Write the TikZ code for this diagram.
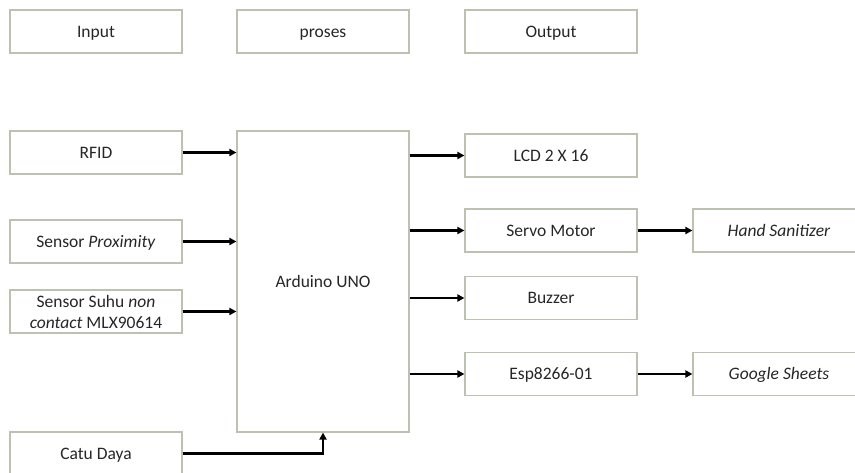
\documentclass[tikz,border=0pt]{standalone}
\usepackage{fontspec}
\setmainfont{Carlito}
\usepackage{tikz}
\usetikzlibrary{positioning, arrows.meta, calc}
\definecolor{boxColor}{HTML}{BCC2B2}

\begin{document}
\begin{tikzpicture}[x=1pt, y=-1pt, font=\fontsize{17.5}{19}\selectfont,
    kotak/.style={draw=boxColor, line width=1.1pt, text=black!85, minimum width=172pt, minimum height=43pt, inner sep=2pt, align=center},
    blok/.style={kotak, text height=14pt, text depth=2pt},
    panah/.style={-{Triangle[length=7pt, width=7pt]}, line width=2.4pt, black}]
        % Canvas (right and bottom boxes are cut off)
        \useasboundingbox (0,0) rectangle (855,473);
        \clip (0,0) rectangle (855,473);

        % Column headers
        \node[blok] (input) at (96, 31.5) {Input};
        \node[blok] (proses) at (323, 31.5) {proses};
        \node[blok] (output) at (551, 31.5) {Output};

        % Input blocks
        \node[blok] (rfid) at (96, 152.5) {RFID};
        \node[blok] (prox) at (96, 241.5) {Sensor \textit{Proximity}};
        \node[kotak] (suhu) at (96, 311.5) {Sensor Suhu \textit{non}\\[2pt]\textit{contact} MLX90614};
        \node[blok] (catu) at (96, 453.5) {Catu Daya};

        % Process block
        \node[blok, minimum height=301pt] (ard) at (323, 281.5) {Arduino UNO};

        % Output blocks
        \node[blok] (lcd) at (551, 155.5) {LCD 2 X 16};
        \node[blok] (servo) at (551, 230.5) {Servo Motor};
        \node[blok] (buzzer) at (551, 298) {Buzzer};
        \node[blok] (esp) at (551, 374) {Esp8266-01};
        \node[blok] (hand) at (779, 230.5) {\textit{Hand Sanitizer}};
        \node[blok] (sheets) at (779, 374) {\textit{Google Sheets}};

        % Flow
        \draw[panah] (rfid.east) -- (rfid.east -| ard.west);
        \draw[panah] (prox.east) -- (prox.east -| ard.west);
        \draw[panah] (suhu.east) -- (suhu.east -| ard.west);
        \draw[panah] (catu.east) -| (ard.south);
        \draw[panah] (ard.east |- lcd.west) -- (lcd.west);
        \draw[panah] (ard.east |- servo.west) -- (servo.west);
        \draw[panah] (ard.east |- buzzer.west) -- (buzzer.west);
        \draw[panah] (ard.east |- esp.west) -- (esp.west);
        \draw[panah] (servo.east) -- (hand.west);
        \draw[panah] (esp.east) -- (sheets.west);
    \end{tikzpicture}
\end{document}
